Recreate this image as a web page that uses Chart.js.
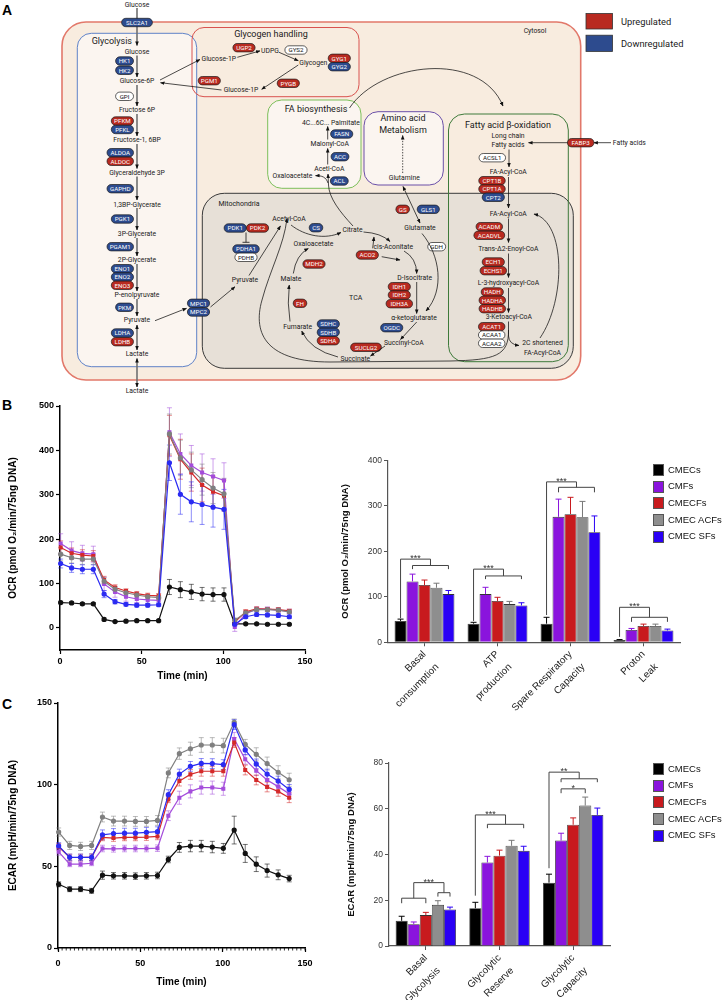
<!DOCTYPE html>
<html>
<head>
<meta charset="utf-8">
<script src="https://cdn.jsdelivr.net/npm/chart.js"></script>
<style>
  body { margin: 0; background: #fff; }
  #page { position: relative; width: 726px; height: 1000px; overflow: hidden; font-family: 'Liberation Sans', Arial, sans-serif; }
  .plabel { position: absolute; font-weight: bold; font-size: 14px; line-height: 1; }
  canvas { position: absolute; }
  .legend { position: absolute; left: 653px; font-size: 9.5px; color: #111; }
  .legend div { position: relative; height: 16.7px; line-height: 16.7px; padding-left: 15px; white-space: nowrap; }
  .legend span { position: absolute; left: 0; top: 2.5px; width: 9px; height: 10px; border: 1px solid #555; }
  #diagram text { font-family: Roboto, 'Noto Sans', sans-serif; }
</style>
</head>
<body>
<div id="page">
  <svg id="diagram" width="726" height="400" style="position:absolute;left:0;top:0">
    <defs>
      <marker id="ah" viewBox="0 0 10 10" refX="9" refY="5" markerWidth="4.5" markerHeight="4.5" markerUnits="userSpaceOnUse" orient="auto-start-reverse">
        <path d="M0,1 L10,5 L0,9 z" fill="#111"/>
      </marker>
    </defs>
  </svg>
  <div class="plabel" style="left:2px;top:3px">A</div>
  <div class="plabel" style="left:2px;top:398px">B</div>
  <div class="plabel" style="left:2px;top:697px">C</div>

  <canvas id="ocrLine" width="320" height="300" style="left:0;top:395px"></canvas>
  <canvas id="ocrBar" width="396" height="275" style="left:330px;top:450px"></canvas>
  <canvas id="ecarLine" width="320" height="305" style="left:0;top:695px"></canvas>
  <canvas id="ecarBar" width="396" height="255" style="left:330px;top:745px"></canvas>
  <div class="legend" id="ocrLegend" style="top:461.6px"></div>
  <div class="legend" id="ecarLegend" style="top:760.6px"></div>
</div>

<script>
// ---- data ----
const groups = ['CMECs', 'CMFs', 'CMECFs', 'CMEC ACFs', 'CMEC SFs'];
const lineColors = ['#111111', '#A44CDB', '#D42A2A', '#7F7F7F', '#2B2BF2'];
const barColors = ['#000000', '#8A14DD', '#C81A1E', '#8E8E8E', '#2A00F5'];

const times = [0.4, 7.1, 13.7, 20.4, 27, 33.7, 40.4, 47, 53.7, 60.4, 67, 73.7, 80.4, 87, 93.7, 100.4, 107, 113.7, 120.4, 127, 133.7, 140.4];
const timeTicks = [0, 50, 100, 150];

// OCR time course
const ocrCMECs  = [57, 56, 54, 54, 19, 14, 15, 16, 16, 16, 92, 86, 81, 76, 75, 75, 9, 9, 9, 8, 8, 8];
const ocrCMFs   = [190, 174, 168, 166, 99, 81, 70, 65, 63, 62, 441, 392, 366, 350, 341, 332, 2, 32, 42, 42, 40, 37];
const ocrCMECFs = [181, 168, 164, 162, 108, 91, 83, 77, 73, 72, 434, 380, 350, 322, 307, 298, 13, 36, 43, 42, 41, 38];
const ocrACFs   = [166, 158, 155, 155, 105, 87, 79, 74, 70, 68, 437, 383, 356, 334, 315, 302, 17, 34, 41, 41, 40, 36];
const ocrSFs    = [145, 135, 132, 132, 76, 59, 53, 51, 51, 52, 372, 301, 284, 278, 272, 267, 8, 25, 30, 29, 28, 25];
const ocrErrCMECs  = [3, 3, 3, 3, 3, 2, 2, 2, 2, 2, 17, 18, 17, 15, 15, 15, 2, 2, 2, 2, 2, 2];
const ocrErrCMFs   = [22, 20, 18, 18, 15, 12, 10, 8, 8, 8, 55, 45, 45, 42, 40, 40, 10, 6, 5, 5, 5, 5];
const ocrErrCMECFs = [15, 12, 12, 12, 8, 6, 5, 5, 5, 5, 45, 45, 42, 38, 35, 35, 6, 5, 4, 4, 4, 4];
const ocrErrACFs   = [15, 12, 12, 12, 8, 6, 5, 5, 5, 5, 45, 40, 40, 35, 35, 35, 5, 4, 4, 4, 4, 4];
const ocrErrSFs    = [10, 10, 10, 10, 8, 5, 4, 4, 4, 4, 40, 45, 45, 45, 45, 45, 4, 4, 4, 4, 4, 4];
const ocrTicks = [0, 100, 200, 300, 400, 500];

// ECAR time course
const ecarCMECs  = [39, 36, 36, 35, 44.6, 44.2, 44.2, 44, 44.2, 44.4, 54.2, 61.6, 62.4, 62.4, 61.8, 61, 72.2, 57.9, 51.3, 47.4, 44.8, 42.5];
const ecarCMFs   = [58.9, 51.3, 51.3, 51.9, 60.9, 60.7, 60.9, 60.9, 60.9, 61.1, 81, 92, 95.9, 98.2, 98.2, 97.5, 128, 115.5, 108.6, 102.9, 98.8, 94.5];
const ecarCMECFs = [62, 55.4, 55.4, 55.6, 67.7, 67.3, 67.7, 67.7, 67.9, 68.3, 91, 102.2, 106.3, 108.2, 108.2, 108.2, 125.8, 109, 102.9, 98.6, 95.9, 92];
const ecarACFs   = [71, 62.8, 62.2, 62.8, 80.2, 77.7, 77.7, 77.5, 77.5, 78.1, 107.2, 119, 122, 124.3, 124.3, 123.9, 138.2, 124.7, 118.6, 112.9, 107.6, 103];
const ecarSFs    = [62.5, 55.5, 55.5, 55.5, 69.3, 70.1, 70.3, 70.3, 70.8, 71.2, 93.9, 106.5, 111.2, 113, 112.9, 112.3, 136.8, 121.3, 112.7, 106.5, 102.2, 97.1];
const ecarErrCMECs  = [1.5, 1.5, 1.5, 1.5, 2.5, 2, 2, 2, 2, 2, 2, 3, 3.5, 3.5, 3.5, 3, 8.5, 5.5, 4.5, 4, 3, 2];
const ecarErrCMFs   = [2, 1.5, 1.5, 1.5, 2, 2, 2, 2, 2, 2, 3, 4, 4, 4, 4, 4, 4, 3, 3, 3, 3, 3];
const ecarErrCMECFs = [2, 2, 2, 2, 2, 2, 2, 2, 2, 2, 2, 3, 3, 3, 3, 3, 3, 3, 3, 3, 3, 3];
const ecarErrACFs   = [2.5, 2.5, 2.5, 2.5, 3, 3, 3, 3, 3, 3, 3, 3.5, 4, 4.5, 4.5, 4.5, 2, 3, 4, 4, 4, 4];
const ecarErrSFs    = [2, 2, 2, 2, 3, 3, 3, 3, 3, 3, 3, 3, 3, 3, 3, 3, 3, 3, 3, 3, 3, 3];
const ecarTicks = [0, 50, 100, 150];

// OCR summary bars
const ocrCats = [['Basal', 'consumption'], ['ATP', 'production'], ['Spare Respiratory', 'Capacity'], ['Proton', 'Leak']];
const ocrBarCMECs  = [47, 41, 41, 5];
const ocrBarCMFs   = [134, 106, 276, 27];
const ocrBarCMECFs = [126, 91, 282, 36];
const ocrBarACFs   = [120, 84, 275, 36];
const ocrBarSFs    = [106, 81, 242, 26];
const ocrBarErrCMECs  = [4, 3, 14, 1];
const ocrBarErrCMFs   = [16, 15, 39, 3.5];
const ocrBarErrCMECFs = [11, 8, 37, 4];
const ocrBarErrACFs   = [10, 6, 35, 4];
const ocrBarErrSFs    = [8, 6, 36, 3];

// ECAR summary bars
const ecarCats = [['Basal', 'Glycolysis'], ['Glycolytic', 'Reserve'], ['Glycolytic', 'Capacity']];
const ecarBarCMECs  = [11, 16.5, 27.7];
const ecarBarCMFs   = [9.5, 36.5, 46.1];
const ecarBarCMECFs = [13.5, 39.5, 53];
const ecarBarACFs   = [18, 43.8, 61.4];
const ecarBarSFs    = [16, 41.6, 57.3];
const ecarBarErrCMECs  = [2, 2.6, 3.7];
const ecarBarErrCMFs   = [1, 2.7, 3.2];
const ecarBarErrCMECFs = [1.2, 2.4, 3];
const ecarBarErrACFs   = [1.8, 2.4, 3.7];
const ecarBarErrSFs    = [1, 2, 3];

// significance brackets (category, bar indices, heights in axis units)
const ocrBrackets = [
  { cat: 0, top: 183, stars: '***', left: { bars: [0], leg: 53 }, right: { bars: [1, 4], level: 169, leg: 161 } },
  { cat: 1, top: 161, stars: '***', left: { bars: [0], leg: 47 }, right: { bars: [1, 4], level: 146, leg: 139 } },
  { cat: 2, top: 353, stars: '***', left: { bars: [0], leg: 60 }, right: { bars: [1, 4], level: 341, leg: 330 } },
  { cat: 3, top: 77, stars: '***', left: { bars: [0], leg: 12 }, right: { bars: [1, 4], level: 55, leg: 45 } }
];
const ecarBrackets = [
  { cat: 0, top: 27.7, stars: '***', left: { bars: [0, 2], level: 20.9, leg: 18.7 }, right: { bars: [3, 4], level: 23.3, leg: 21.6 } },
  { cat: 1, top: 57.3, stars: '***', left: { bars: [0], leg: 22 }, right: { bars: [1, 4], level: 53.2, leg: 51.5 } },
  { cat: 2, top: 76, stars: '**', left: { bars: [0], leg: 34 }, right: { bars: [1, 4], level: 73.1, leg: 71.6 } },
  { cat: 2, top: 68.7, stars: '*', left: { bars: [1], leg: 66.8 }, right: { bars: [3], leg: 66.8 } }
];

// ---- pathway diagram (panel A) ----
const NS = 'http://www.w3.org/2000/svg';
const svg = document.getElementById('diagram');
function add(tag, attrs) {
  const e = document.createElementNS(NS, tag);
  for (const k in attrs) e.setAttribute(k, attrs[k]);
  svg.appendChild(e);
  return e;
}
function label(x, y, s, size, extra) {
  const t = add('text', Object.assign({ x: x, y: y, 'font-size': size || 6.8, 'text-anchor': 'middle', 'dominant-baseline': 'central', fill: '#1a1a1a' }, extra || {}));
  t.textContent = s;
  return t;
}
const pillFill = { up: '#B82A20', down: '#2D4B8E', none: '#ffffff' };
function pill(cx, cy, s, kind) {
  const w = 4.3 * s.length + 5, h = 8.4;
  add('rect', { x: cx - w / 2, y: cy - h / 2, width: w, height: h, rx: h / 2, fill: pillFill[kind], stroke: '#1b1b1b', 'stroke-width': 0.7 });
  label(cx, cy + 0.2, s, 6.2, { fill: kind === 'none' ? '#111' : '#fff' });
}
function pillR(right, cy, s, kind) {
  pill(right - (4.3 * s.length + 5) / 2, cy, s, kind);
}
function arrow(d, extra) {
  add('path', Object.assign({ d: d, fill: 'none', stroke: '#111', 'stroke-width': 0.75, 'marker-end': 'url(#ah)' }, extra || {}));
}
function box(x, y, w, h, r, stroke, fill, sw) {
  add('rect', { x: x, y: y, width: w, height: h, rx: r, fill: fill, stroke: stroke, 'stroke-width': sw || 1 });
}

// compartments
box(62, 22, 518.7, 358, 24, '#E2786A', '#F8ECDF', 1.6);
box(77.3, 33.3, 119.4, 333.4, 14, '#5F82C8', '#FBF5F0', 1);
box(192, 27.5, 167, 69.2, 12, '#D9534F', 'none', 1);
box(267.7, 100, 93.3, 88.3, 14, '#7DBF5A', '#FBF5F0', 1);
box(364, 111.7, 79.3, 73.3, 14, '#6A4FA8', '#FBF5F0', 1);
box(202.3, 193.3, 371, 175, 22, '#3a3a3a', '#E7E0D7', 1);
box(448.5, 114, 119.8, 247.7, 16, '#3E7A3A', 'none', 1);

// legend for regulation
add('rect', { x: 586, y: 13.5, width: 26.5, height: 15.5, fill: '#B82A20', stroke: '#333', 'stroke-width': 0.8 });
add('rect', { x: 586, y: 35.2, width: 26.5, height: 16.2, fill: '#2D4B8E', stroke: '#333', 'stroke-width': 0.8 });
label(621, 21.2, 'Upregulated', 9.3, { 'text-anchor': 'start' });
label(621, 43.3, 'Downregulated', 9.3, { 'text-anchor': 'start' });
label(535, 30.7, 'Cytosol', 6.8);

// glycolysis column
const gx = 137;
const gLine = { stroke: '#707070', 'stroke-width': 1.6 };
[[8, 45.5], [55.5, 77], [85, 106], [114, 136], [144, 168.5], [176.5, 200], [208, 230], [238, 256], [264, 291], [299, 316]].forEach(s => {
  arrow('M' + gx + ',' + s[0] + ' L' + gx + ',' + s[1], gLine);
});
arrow('M' + gx + ',325 L' + gx + ',350', Object.assign({ 'marker-start': 'url(#ah)' }, gLine));
arrow('M' + gx + ',358.5 L' + gx + ',387', Object.assign({ 'marker-start': 'url(#ah)' }, gLine));
label(gx, 4.7, 'Glucose');
pill(gx, 22.5, 'SLC2A1', 'down');
label(91.7, 41, 'Glycolysis', 9, { 'text-anchor': 'start' });
[['Glucose', 51.7], ['Glucose-6P', 81], ['Fructose 6P', 110], ['Fructose-1, 6BP', 140], ['Glyceraldehyde 3P', 172.7],
 ['1,3BP-Glycerate', 204.7], ['3P-Glycerate', 234], ['2P-Glycerate', 260], ['P-enolpyruvate', 295], ['Pyruvate', 320.3], ['Lactate', 354.3]].forEach(m => label(gx, m[1], m[0]));
label(gx, 391.3, 'Lactate');
const pr = 133.5;
pillR(pr, 61, 'HK1', 'down'); pillR(pr, 70.3, 'HK2', 'down');
pillR(pr, 96.3, 'GPI', 'none');
pillR(pr, 121, 'PFKM', 'up'); pillR(pr, 129.5, 'PFKL', 'down');
pillR(pr, 152.7, 'ALDOA', 'down'); pillR(pr, 161.3, 'ALDOC', 'up');
pillR(pr, 188.7, 'GAPHD', 'down');
pillR(pr, 219, 'PGK1', 'down');
pillR(pr, 246.7, 'PGAM1', 'down');
pillR(pr, 268.7, 'ENO1', 'down'); pillR(pr, 277, 'ENO2', 'down'); pillR(pr, 285.3, 'ENO3', 'up');
pillR(pr, 307.3, 'PKM', 'down');
pillR(pr, 333, 'LDHA', 'down'); pillR(pr, 341.7, 'LDHB', 'up');
arrow('M155,320.7 L186.5,308.3');
pill(198.5, 303.3, 'MPC1', 'down'); pill(198.5, 312, 'MPC2', 'down');
arrow('M210.5,307 L235,286.7');

// glycogen handling
label(271, 33.5, 'Glycogen handling', 9);
arrow('M160,80 L200,59.5');
arrow('M221.5,90 L160.5,82.7');
arrow('M237.3,57.3 L260,50.9');
arrow('M279,52.3 L298.3,60.7');
arrow('M298.3,65 L261.7,89.3');
label(218.8, 58.7, 'Glucose-1P'); label(270, 51, 'UDPG'); label(313.3, 62.7, 'Glycogen'); label(241, 90, 'Glucose-1P');
pill(244, 47.7, 'UGP2', 'up'); pill(296, 50, 'GYS2', 'none');
pill(339.3, 58.3, 'GYG1', 'up'); pill(339.3, 66.7, 'GYG2', 'down');
pill(209.3, 80.7, 'PGM1', 'up'); pill(288.3, 83.3, 'PYGB', 'up');

// FA biosynthesis
label(316, 109.3, 'FA biosynthesis', 9);
arrow('M349.5,108 C380,62 480,50 503,106');
label(331, 122.7, '4C...6C... Palmitate');
arrow('M327.7,139.5 L327.7,126.5');
pill(341.7, 134, 'FASN', 'down');
label(329.7, 144.3, 'Malonyl-CoA');
arrow('M327.7,164.5 L327.7,148.5');
pill(340, 156.7, 'ACC', 'down');
label(329.3, 169, 'Acetl-CoA');
label(292.5, 175.7, 'Oxaloacetate');
pill(339.3, 181, 'ACL', 'down');
arrow('M353,226 C340,212 329,198 328.5,185 L328,174');
arrow('M328,183 C326,177 322,175.5 315.5,175.7');

// amino acid metabolism
label(403, 118.3, 'Amino acid', 9); label(403, 130, 'Metabolism', 9);
arrow('M402.7,173 L402.7,135.5', { 'stroke-dasharray': '1.4,1.4' });
label(404.3, 178.3, 'Glutamine');
arrow('M403,186.5 L420,223', { 'marker-start': 'url(#ah)' });

// fatty acid beta-oxidation
label(508, 125.3, 'Fatty acid \u03b2-oxidation', 9);
label(508, 136, 'Long chain'); label(508, 145.3, 'Fatty acids');
label(629.3, 142.7, 'Fatty acids');
arrow('M568.5,142.7 L528.5,142.7');
arrow('M611,142.7 L593.8,142.7');
pill(580.7, 142.7, 'FABP3', 'up');
pill(492.3, 157.7, 'ACSL1', 'none');
arrow('M509,149.5 L509,167');
label(508.3, 172.3, 'FA-Acyl-CoA');
arrow('M508.5,177 L508.5,208');
pill(492, 180.7, 'CPT1B', 'up'); pill(492, 189, 'CPT1A', 'up'); pill(493.3, 197.3, 'CPT2', 'down');
label(508.3, 214, 'FA-Acyl-CoA');
arrow('M508.5,218.5 L508.5,242.5');
pill(489.3, 226.7, 'ACADM', 'up'); pill(489.3, 235.3, 'ACADVL', 'up');
label(508.3, 249, 'Trans-\u03942-Enoyl-CoA');
arrow('M508.5,253.5 L508.5,277.5');
pill(493.3, 262, 'ECH1', 'up'); pill(493.3, 270.7, 'ECHS1', 'up');
label(508.5, 283.3, 'L-3-hydroxyacyl-CoA');
arrow('M508.5,288 L508.5,312.5');
pill(492.3, 292, 'HADH', 'up'); pill(492.3, 300.3, 'HADHA', 'up'); pill(492.3, 308.7, 'HADHB', 'up');
label(508.8, 317.3, '3-Ketoacyl-CoA');
arrow('M508.5,321.5 L508.5,336 Q509,344.5 519,345.5');
arrow('M508.5,330 C509,356 495,360 450,361 L330,362 C268,362 252,335 262,300 C270,270 284,245 287,218.5');
pill(491.7, 326.7, 'ACAT1', 'up'); pill(491.7, 335, 'ACAA1', 'none'); pill(491.7, 343.3, 'ACAA2', 'none');
label(542.5, 343.3, '2C shortened'); label(542.5, 352.7, 'FA-Acyl-CoA');
arrow('M540,338 C566,300 566,222 534,214');

// mitochondria / TCA
label(239, 204.3, 'Mitochondria', 7);
label(289, 219.3, 'Acetyl-CoA');
pill(235.2, 228, 'PDK1', 'down'); pill(257.5, 228, 'PDK2', 'up');
add('path', { d: 'M246,232.5 L246,242.3 M242.5,242.3 L249.5,242.3', stroke: '#111', 'stroke-width': 0.8, fill: 'none' });
pill(246, 249, 'PDHA1', 'down'); pill(246, 257.3, 'PDHB', 'none');
label(245, 280, 'Pyruvate');
arrow('M249,275.5 L280.5,226');
pill(316, 227.7, 'CS', 'down');
arrow('M291,225 C305,236 325,240 341,232.5');
label(313.5, 244, 'Oxaloacetate');
label(352.5, 230, 'Citrate');
arrow('M363.5,232 Q381,233 390,241.5');
label(393.3, 246.7, 'cis-Aconitate');
arrow('M372.7,248.3 L374,237');
pill(367.3, 255, 'ACO2', 'up');
arrow('M381.7,256.7 L400,260');
arrow('M404,251 Q416.5,258 416.7,273.5');
label(414.7, 277.7, 'D-Isocitrate');
pill(399.3, 286.7, 'IDH1', 'up'); pill(399.3, 295, 'IDH2', 'up'); pill(399.3, 303.7, 'IDH3A', 'up');
arrow('M416.7,282 L416.7,313.5');
label(414, 317.7, '\u03b1-ketoglutarate');
pill(402.7, 209.3, 'GS', 'up'); pill(428.3, 209.3, 'GLS1', 'down');
label(420, 228.3, 'Glutamate');
pill(436.7, 246.7, 'GDH', 'none');
arrow('M422,233.5 C440,255 445,290 426,311');
pill(391.7, 327.7, 'OGDC', 'down');
arrow('M416.7,322 L400.5,339.5');
label(403.8, 343.3, 'Succinyl-CoA');
pill(366, 347.3, 'SUCLG2', 'up');
arrow('M385,346 L370.5,356');
label(355.3, 359.3, 'Succinate');
arrow('M338,357 Q310,350 301.7,331');
pill(328.3, 324, 'SDHC', 'down'); pill(328.3, 332.3, 'SDHB', 'down'); pill(328.3, 340.7, 'SDHA', 'up');
label(297.7, 326.7, 'Fumarate');
arrow('M290,321.5 Q287,303 289.3,285');
pill(300, 303.3, 'FH', 'up');
label(291, 279.3, 'Malate');
arrow('M293.3,273.5 Q296,255 308.3,248.5');
pill(314, 264, 'MDH2', 'up');
label(355.7, 298.3, 'TCA', 7);

// ---- charts (panels B and C) ----
Chart.defaults.font.family = "'Liberation Sans', Arial, sans-serif";
Chart.defaults.color = '#111';

function drawErr(chart, o) {
  const ctx = chart.ctx, ys = chart.scales.y;
  ctx.save();
  chart.data.datasets.forEach((ds, i) => {
    const meta = chart.getDatasetMeta(i);
    ctx.strokeStyle = ds.errorColor;
    ctx.lineWidth = o.width;
    ds.errors.forEach((e, j) => {
      const v = typeof ds.data[j] === 'object' ? ds.data[j].y : ds.data[j];
      const x = meta.data[j].x;
      const top = ys.getPixelForValue(v + e);
      const bot = o.mode === 'up' ? ys.getPixelForValue(v) : ys.getPixelForValue(v - e);
      ctx.beginPath();
      ctx.moveTo(x, bot); ctx.lineTo(x, top);
      ctx.moveTo(x - o.cap, top); ctx.lineTo(x + o.cap, top);
      if (o.mode === 'both') { ctx.moveTo(x - o.cap, bot); ctx.lineTo(x + o.cap, bot); }
      ctx.stroke();
    });
  });
  ctx.restore();
}
const errorBars = {
  id: 'errorBars',
  beforeDatasetsDraw(chart, a, o) { if (o.mode === 'both') drawErr(chart, o); },
  afterDatasetsDraw(chart, a, o) { if (o.mode === 'up') drawErr(chart, o); }
};

const brackets = {
  id: 'brackets',
  afterDatasetsDraw(chart, a, o) {
    const ctx = chart.ctx, ys = chart.scales.y;
    const bx = (cat, i) => chart.getDatasetMeta(i).data[cat].x;
    ctx.save();
    ctx.strokeStyle = '#444';
    ctx.fillStyle = '#333';
    ctx.lineWidth = 1;
    ctx.font = "9px 'Liberation Sans', Arial, sans-serif";
    (o.list || []).forEach(b => {
      const top = ys.getPixelForValue(b.top);
      const ends = [b.left, b.right].map(s => {
        const xs = s.bars.map(i => bx(b.cat, i));
        if (xs.length === 1) return { x: xs[0], y: ys.getPixelForValue(s.leg) };
        const lv = ys.getPixelForValue(s.level), lg = ys.getPixelForValue(s.leg);
        ctx.beginPath();
        ctx.moveTo(xs[0], lg); ctx.lineTo(xs[0], lv); ctx.lineTo(xs[1], lv); ctx.lineTo(xs[1], lg);
        ctx.stroke();
        return { x: (xs[0] + xs[1]) / 2, y: lv };
      });
      ctx.beginPath();
      ctx.moveTo(ends[0].x, ends[0].y); ctx.lineTo(ends[0].x, top); ctx.lineTo(ends[1].x, top); ctx.lineTo(ends[1].x, ends[1].y);
      ctx.stroke();
      ctx.textAlign = 'center';
      ctx.textBaseline = 'alphabetic';
      ctx.fillText(b.stars, (ends[0].x + ends[1].x) / 2, top + 2);
    });
    ctx.restore();
  }
};

const minorTicks = {
  id: 'minorTicks',
  afterDraw(chart, a, o) {
    if (!o.step) return;
    const xs = chart.scales.x, ctx = chart.ctx, y0 = chart.chartArea.bottom;
    ctx.save();
    ctx.strokeStyle = '#000';
    ctx.lineWidth = 0.8;
    for (let t = xs.min; t <= xs.max; t += o.step) {
      const px = xs.getPixelForValue(t);
      ctx.beginPath(); ctx.moveTo(px, y0); ctx.lineTo(px, y0 + 2.5); ctx.stroke();
    }
    ctx.restore();
  }
};

function lineSets(series, errs) {
  return series.map((s, i) => ({
    label: groups[i],
    data: times.map((t, j) => ({ x: t, y: s[j] })),
    errors: errs[i],
    errorColor: i === 0 ? 'rgba(0,0,0,0.55)' : lineColors[i] + '88',
    borderColor: lineColors[i],
    backgroundColor: lineColors[i],
    borderWidth: 1.2,
    pointRadius: 2,
    pointStyle: (i === 1 || i === 2) ? 'rect' : 'circle',
    clip: false,
    order: 5 - i
  }));
}

function lineOptions(yMin, yMax, yTicks, yTitle, p) {
  return {
    responsive: false,
    animation: false,
    layout: { padding: { top: p.top, right: 15, left: 0, bottom: 0 } },
    plugins: {
      legend: { display: false },
      tooltip: { enabled: false },
      errorBars: { mode: 'both', cap: 2.5, width: 1 },
      minorTicks: { step: p.minor || 0 }
    },
    scales: {
      x: {
        type: 'linear', min: 0, max: 150,
        afterBuildTicks: s => { s.ticks = timeTicks.map(v => ({ value: v })); },
        afterFit: s => { s.height = p.xh; },
        grid: { drawOnChartArea: false, tickLength: 4, color: '#000', tickWidth: 1.2 },
        border: { color: '#000', width: 1.5 },
        ticks: { autoSkip: false, padding: p.tp, maxRotation: 0, color: '#000', font: { size: 9, weight: 'bold' } },
        title: { display: true, text: 'Time (min)', color: '#000', font: { size: 10, weight: 'bold' }, padding: { top: 0, bottom: p.tb } }
      },
      y: {
        min: yMin, max: yMax,
        afterBuildTicks: s => { s.ticks = yTicks.map(v => ({ value: v })); },
        afterFit: s => { s.width = p.yw; },
        grid: { drawOnChartArea: false, tickLength: 4, color: '#000', tickWidth: 1.2 },
        border: { color: '#000', width: 1.5 },
        ticks: { autoSkip: false, padding: 2, color: '#000', font: { size: 9, weight: 'bold' } },
        title: { display: true, text: yTitle, color: '#000', font: { size: 10, weight: 'bold' }, padding: { top: 7, bottom: 0 } }
      }
    }
  };
}

new Chart(document.getElementById('ocrLine'), {
  type: 'line',
  data: { datasets: lineSets([ocrCMECs, ocrCMFs, ocrCMECFs, ocrACFs, ocrSFs], [ocrErrCMECs, ocrErrCMFs, ocrErrCMECFs, ocrErrACFs, ocrErrSFs]) },
  options: lineOptions(-50, 500, ocrTicks, 'OCR (pmol O\u2082/min/75ng DNA)', { top: 11, xh: 45, yw: 60, tb: 12.3, tp: 2 }),
  plugins: [errorBars, minorTicks]
});

new Chart(document.getElementById('ecarLine'), {
  type: 'line',
  data: { datasets: lineSets([ecarCMECs, ecarCMFs, ecarCMECFs, ecarACFs, ecarSFs], [ecarErrCMECs, ecarErrCMFs, ecarErrCMECFs, ecarErrACFs, ecarErrSFs]) },
  options: lineOptions(0, 150, ecarTicks, 'ECAR (mpH/min/75ng DNA)', { top: 8, xh: 52, yw: 58, tb: 12, tp: 6, minor: 2.5 }),
  plugins: [errorBars, minorTicks]
});

function barSets(series, errs) {
  return series.map((s, i) => ({
    label: groups[i],
    data: s,
    errors: errs[i],
    errorColor: i === 3 ? '#777' : barColors[i],
    backgroundColor: barColors[i],
    borderColor: '#333',
    borderWidth: 0.8,
    barPercentage: 1,
    categoryPercentage: 0.82
  }));
}

function barOptions(cats, max, step, yTitle, p, list) {
  return {
    responsive: false,
    animation: false,
    layout: { padding: { top: p.top, right: p.right, left: 0, bottom: 0 } },
    plugins: {
      legend: { display: false },
      tooltip: { enabled: false },
      errorBars: { mode: 'up', cap: 3, width: 1 },
      brackets: { list: list }
    },
    scales: {
      x: {
        afterFit: s => { s.height = p.xh; },
        grid: { drawOnChartArea: false, offset: false, tickLength: 4, color: '#555' },
        border: { color: '#555', width: 1.2 },
        ticks: { autoSkip: false, minRotation: 45, maxRotation: 45, padding: 0, color: '#222', font: { size: 10, lineHeight: 1.8 } }
      },
      y: {
        min: 0, max: max,
        ticks: { stepSize: step, padding: 2, color: '#333', font: { size: 8.5 } },
        afterFit: s => { s.width = p.yw; },
        grid: { drawOnChartArea: false, tickLength: 4, color: '#555' },
        border: { color: '#555', width: 1.2 },
        title: { display: true, text: yTitle, color: '#111', font: { size: 9.5, weight: 'bold' }, padding: { top: p.tp, bottom: 0 } }
      }
    }
  };
}

new Chart(document.getElementById('ocrBar'), {
  type: 'bar',
  data: { labels: ocrCats, datasets: barSets([ocrBarCMECs, ocrBarCMFs, ocrBarCMECFs, ocrBarACFs, ocrBarSFs], [ocrBarErrCMECs, ocrBarErrCMFs, ocrBarErrCMECFs, ocrBarErrACFs, ocrBarErrSFs]) },
  options: barOptions(ocrCats, 400, 100, 'OCR (pmol O\u2082/min/75ng DNA)', { top: 10.5, right: 46, xh: 82.7, yw: 58, tp: 9.6 }, ocrBrackets),
  plugins: [errorBars, brackets]
});

new Chart(document.getElementById('ecarBar'), {
  type: 'bar',
  data: { labels: ecarCats, datasets: barSets([ecarBarCMECs, ecarBarCMFs, ecarBarCMECFs, ecarBarACFs, ecarBarSFs], [ecarBarErrCMECs, ecarBarErrCMFs, ecarBarErrCMECFs, ecarBarErrACFs, ecarBarErrSFs]) },
  options: barOptions(ecarCats, 80, 20, 'ECAR (mpH/min/75ng DNA)', { top: 18, right: 116, xh: 54, yw: 59, tp: 15.5 }, ecarBrackets),
  plugins: [errorBars, brackets]
});

// HTML legends for the bar charts
['ocrLegend', 'ecarLegend'].forEach(id => {
  const box = document.getElementById(id);
  groups.forEach((g, i) => {
    const row = document.createElement('div');
    const sw = document.createElement('span');
    sw.style.background = barColors[i];
    row.appendChild(sw);
    row.appendChild(document.createTextNode(g));
    box.appendChild(row);
  });
});
</script>
</body>
</html>
